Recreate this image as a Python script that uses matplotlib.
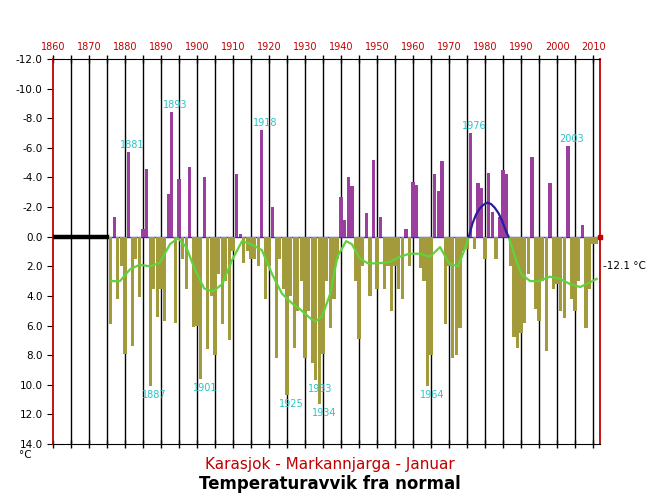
import matplotlib
matplotlib.use("Agg")
import matplotlib.pyplot as plt
import numpy as np

# ---- data (January temperature anomaly, deg C) ----
years = list(range(1876, 2012))
anomaly = [
    5.9, -1.35, 4.2, 2.0, 7.9, -5.7, 7.4, 1.5, 4.1, -0.5,          # 1876-1885
    -4.6, 10.1, 3.5, 5.4, 3.5, 5.7, -2.9, -8.4, 5.8, -3.9,         # 1886-1895
    1.5, 3.5, -4.7, 6.1, 6.0, 9.6, -4.0, 7.6, 4.0, 8.0,            # 1896-1905
    2.5, 5.9, 3.0, 7.0, 1.0, -4.2, -0.2, 1.8, 1.0, 1.5,            # 1906-1915
    1.5, 2.0, -7.2, 4.2, 2.0, -2.0, 8.2, 1.5, 3.5, 10.7,           # 1916-1925
    4.0, 7.5, 5.0, 3.0, 8.2, 5.0, 8.5, 9.7, 11.3, 7.9,             # 1926-1935
    3.0, 6.2, 4.2, 1.5, -2.7, -1.1, -4.0, -3.4, 3.0, 6.9,          # 1936-1945
    2.0, -1.6, 4.0, -5.2, 3.5, -1.35, 3.5, 2.0, 5.0, 2.0,          # 1946-1955
    3.5, 4.2, -0.5, 2.0, -3.7, -3.5, 2.1, 3.0, 10.1, 8.0,          # 1956-1965
    -4.2, -3.1, -5.1, 5.9, 2.0, 8.2, 8.0, 6.2, 1.0, 0.8,           # 1966-1975
    -7.0, 0.8, -3.6, -3.3, 1.5, -4.3, -1.7, 1.5, -1.3, -4.5,       # 1976-1985
    -4.2, 2.0, 6.8, 7.5, 6.5, 5.8, 2.5, -5.4, 4.9, 5.7,            # 1986-1995
    3.0, 7.7, -3.6, 3.5, 3.2, 5.0, 5.5, -6.1, 4.2, 5.0,            # 1996-2005
    3.0, -0.8, 6.2, 3.5, 0.5, 0.5,                                 # 2006-2011
]

# smoothed curve (positive part, green)
smooth_years = [1876, 1878.6, 1881.4, 1884, 1887, 1889.7, 1892.5, 1894.7, 1897,
                1899.4, 1902, 1904.4, 1907, 1909.7, 1912.5, 1915, 1918, 1920.8,
                1923.6, 1926.4, 1928.6, 1931.4, 1933, 1934.7, 1937, 1939, 1941.4,
                1943, 1945.3, 1947.5, 1950.3, 1953.6, 1956.4, 1959, 1962, 1964.7,
                1967.5, 1970, 1972.5, 1974.4, 1975.5]
smooth_vals = [3.0, 3.0, 2.2, 1.9, 2.0, 1.75, 0.5, 0.1, 0.7,
               2.2, 3.5, 3.7, 3.2, 1.6, 0.3, 0.5, 0.9, 2.5,
               3.85, 4.5, 4.9, 5.5, 5.7, 5.4, 3.85, 1.35, 0.3,
               0.5, 1.5, 1.8, 1.8, 1.7, 1.35, 1.15, 1.15, 1.35,
               0.7, 1.8, 2.0, 0.8, 0.0]
smooth2_years = [1986.5, 1988.3, 1990, 1992.5, 1995, 1998, 2000.8, 2003.6, 2006.4, 2009, 2011]
smooth2_vals = [0.0, 1.35, 2.5, 3.0, 3.0, 2.7, 2.85, 3.2, 3.4, 3.1, 2.85]
# negative part of the smoothed curve (blue arc)
cold_years = [1975.5, 1976.5, 1977.5, 1978.5, 1979.5, 1980.6, 1981.7, 1982.7, 1983.7, 1984.7, 1985.6, 1986.5]
cold_vals = [0.0, -0.9, -1.5, -1.9, -2.15, -2.3, -2.2, -1.95, -1.6, -1.1, -0.5, 0.0]

labels_cold = [1881, 1893, 1918, 1976, 2003]
labels_warm = [1887, 1901, 1925, 1933, 1934, 1964]

tick_years = list(range(1860, 2011, 10))
y_ticks = list(range(-12, 15, 2))
normal_text = "-12.1 °C"
title = "Temperaturavvik fra normal"
subtitle = "Karasjok - Markannjarga - Januar"

# ---- drawing ----
purple = "#9a3f9e"
olive = "#a39a3b"
green = "#5fd23c"
navy = "#2c1c9c"
red = "#c00000"
cyan = "#2bc4c4"

fig = plt.figure(figsize=(6.5, 5), dpi=100)
ax = fig.add_axes([0.0815, 0.112, 0.8415, 0.77])

ax.set_xlim(1860, 2011.9)
ax.set_ylim(14, -12)

for yr in range(1865, 2011, 5):
    ax.axvline(yr, color="black", lw=1.0, zorder=1)

ax.plot([1860, 1875], [0, 0], color="black", lw=3.2, zorder=3)
ax.plot([1875, 2011.9], [0, 0], color="#3030d0", lw=1.0, zorder=2)

cols = [purple if v < 0 else olive for v in anomaly]
ax.bar(years, anomaly, width=0.92, color=cols, zorder=3, linewidth=0)

ax.plot(smooth_years, smooth_vals, color=green, lw=1.6, zorder=4)
ax.plot(smooth2_years, smooth2_vals, color=green, lw=1.6, zorder=4)
ax.plot(cold_years, cold_vals, color=navy, lw=1.6, zorder=4)

amap = dict(zip(years, anomaly))
for yr in labels_cold:
    ax.text(yr + 1, amap[yr] - 0.15, str(yr), color=cyan, fontsize=7,
            ha="center", va="bottom", zorder=5)
for yr in labels_warm:
    ax.text(yr + 1.2, amap[yr] + 0.25, str(yr), color=cyan, fontsize=7,
            ha="center", va="top", zorder=5)

# axes styling
ax.xaxis.tick_top()
ax.set_xticks(tick_years)
ax.set_xticklabels([str(t) for t in tick_years], color=red, fontsize=7)
ax.set_xticks(range(1860, 2011, 5), minor=True)
ax.tick_params(axis="x", which="both", top=True, bottom=True, direction="inout",
               length=6, width=1, color="black", pad=2)
ax.set_yticks(y_ticks)
ax.set_yticklabels([f"{t:.1f}" for t in y_ticks], fontsize=7.5)
ax.tick_params(axis="y", left=True, right=False, direction="out", length=4,
               color="black")
ax.spines["left"].set_color(red)
ax.spines["right"].set_color(red)
ax.spines["left"].set_linewidth(1.3)
ax.spines["right"].set_linewidth(1.3)
ax.spines["top"].set_color("black")
ax.spines["bottom"].set_color("black")

ax.text(1.005, 0.4615, normal_text, transform=ax.transAxes, fontsize=7.5,
        ha="left", va="center")
ax.plot([2011.9], [0], marker="s", color=red, ms=3, clip_on=False, zorder=6)
fig.text(0.03, 0.09, "°C", fontsize=7.5, ha="left", va="center")

fig.text(0.508, 0.072, subtitle, color=red, fontsize=11, ha="center", va="center")
fig.text(0.508, 0.032, title, color="black", fontsize=12, fontweight="bold",
         ha="center", va="center")

fig.savefig("out.png", dpi=100)
